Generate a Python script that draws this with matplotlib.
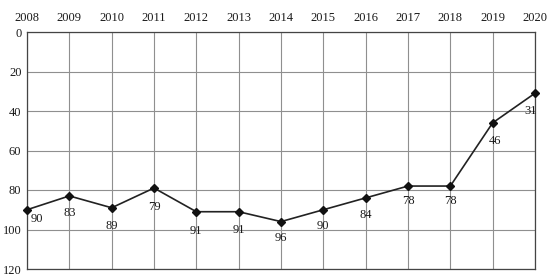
import matplotlib.pyplot as plt

years = [2008, 2009, 2010, 2011, 2012, 2013, 2014, 2015, 2016, 2017, 2018, 2019, 2020]
values = [90, 83, 89, 79, 91, 91, 96, 90, 84, 78, 78, 46, 31]
yticks = [0, 20, 40, 60, 80, 100, 120]

# label offsets (points) below each marker
label_dx = [7, 0, 0, 0, 0, 0, 0, 0, 0, 0, 0, 2, -3]
label_dy = [-7, -12, -13, -14, -14, -13, -12, -12, -12, -11, -11, -13, -13]

plt.rcParams['font.family'] = ['Liberation Serif', 'DejaVu Serif']

fig = plt.figure(figsize=(5.5, 2.77), dpi=100)
ax = fig.add_axes([27 / 550, 1 - 269 / 277, (535 - 27) / 550, (269 - 32) / 277])

ax.plot(years, values, color='#222222', lw=1.2, marker='D', ms=4.5,
        mfc='#111111', mec='#111111', zorder=3, clip_on=False)

for x, v, dx, dy in zip(years, values, label_dx, label_dy):
    ax.annotate(str(v), (x, v), xytext=(dx, dy), textcoords='offset points',
                ha='center', va='center', fontsize=9, color='#1a1a1a')

ax.set_xlim(years[0], years[-1])
ax.set_ylim(120, 0)
ax.set_xticks(years)
ax.set_yticks(yticks)
ax.xaxis.tick_top()
ax.tick_params(axis='x', length=0, pad=6, labelsize=9, colors='#1a1a1a')
ax.tick_params(axis='y', length=0, pad=4, labelsize=9, colors='#1a1a1a')
ax.grid(True, color='#8f8f8f', lw=0.8)
for s in ax.spines.values():
    s.set_color('#444444')
    s.set_linewidth(0.9)

fig.savefig('out.png', dpi=100)
